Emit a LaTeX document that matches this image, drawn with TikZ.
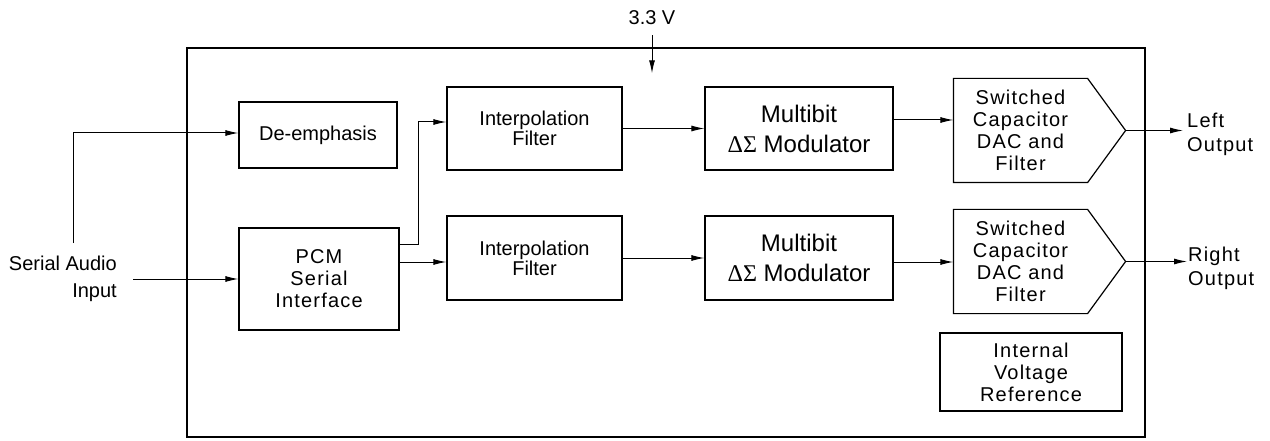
\documentclass[tikz,border=0pt]{standalone}
\usepackage{fontspec}
\setmainfont{Liberation Sans}
\newfontfamily\grk{Liberation Serif}
\newfontfamily\spaced[LetterSpace=6]{Liberation Sans}
\usetikzlibrary{arrows.meta,calc}
\begin{document}
\begin{tikzpicture}[x=1pt,y=-1pt,
  blk/.style={draw,line width=1.2pt,inner sep=0pt,align=center,font=\fontsize{20}{22}\selectfont},
  sblk/.style={blk,font=\spaced\fontsize{20}{22}\selectfont},
  mblk/.style={blk,font=\fontsize{24}{30}\selectfont},
  lbl/.style={inner sep=0pt,font=\fontsize{20}{27}\selectfont},
  arr/.style={line width=1pt,-{Latex[length=13pt,width=6pt]}},
  wire/.style={line width=1pt},
  dacshape/.style={line width=1.2pt}
]
\useasboundingbox (0,0) rectangle (1270,441);
% chip outline
\node[draw,line width=2.5pt,minimum width=958pt,minimum height=389pt,inner sep=0pt] (chip) at (666,242.5) {};
% blocks
\node[blk,minimum width=158pt,minimum height=66pt] (deemph) at (318,135) {De-emphasis};
\node[sblk,minimum width=160pt,minimum height=102pt] (pcm) at (319,279) {PCM\\Serial\\Interface};
\node[blk,minimum width=175pt,minimum height=83pt,font=\fontsize{20}{20}\selectfont] (if1) at (534.5,128.5) {Interpolation\\Filter};
\node[blk,minimum width=175pt,minimum height=84pt,font=\fontsize{20}{20}\selectfont] (if2) at (534.5,258) {Interpolation\\Filter};
\node[mblk,minimum width=188pt,minimum height=83pt] (mod1) at (799,128.5) {Multibit\\{\grk ΔΣ} Modulator};
\node[mblk,minimum width=188pt,minimum height=84pt] (mod2) at (799,258) {Multibit\\{\grk ΔΣ} Modulator};
% DACs
\node[sblk,draw=none,minimum width=133pt,minimum height=103pt] (dac1) at (1020.5,130.5) {Switched\\Capacitor\\DAC and\\Filter};
\coordinate (dac1tip) at ($(dac1.east)+(38,0)$);
\draw[dacshape] (dac1.north west) -- (dac1.north east) -- (dac1tip) -- (dac1.south east) -- (dac1.south west) -- cycle;
\node[sblk,draw=none,minimum width=133pt,minimum height=103pt] (dac2) at (1020.5,261.5) {Switched\\Capacitor\\DAC and\\Filter};
\coordinate (dac2tip) at ($(dac2.east)+(38,0)$);
\draw[dacshape] (dac2.north west) -- (dac2.north east) -- (dac2tip) -- (dac2.south east) -- (dac2.south west) -- cycle;
\node[sblk,minimum width=182pt,minimum height=78pt] (ivr) at (1031,372) {Internal\\Voltage\\Reference};
% labels
\node[lbl,align=right,anchor=east] (sai) at (117,279) {Serial Audio\\Input};
\node[lbl] (v33) at (652,18) {3.3 V};
\node[lbl,align=left,anchor=west,font=\spaced\fontsize{20}{24}\selectfont] (lo) at (1187,134) {Left\\Output};
\node[lbl,align=left,anchor=west,font=\spaced\fontsize{20}{24}\selectfont] (ro) at (1188,268) {Right\\Output};
% connectors
\coordinate (brk) at (73,243);
\draw[arr] (brk) |- ([yshift=2pt]deemph.west);
\draw[arr] ([xshift=16pt]sai.east) -- (pcm.west);
\draw[arr] ([yshift=35pt]pcm.east) -- ++(19,0) |- ([yshift=6.5pt]if1.west);
\draw[arr] ([yshift=17pt]pcm.east) coordinate (p2) -- (p2 -| if2.west);
\draw[arr] (if1) -- (mod1);
\draw[arr] (if2) -- (mod2);
\draw[arr] ([yshift=8.5pt]mod1.east) coordinate (m1o) -- (m1o -| dac1.west);
\draw[arr] ([yshift=-4pt]mod2.east) coordinate (m2o) -- (m2o -| dac2.west);
\draw[arr] (dac1tip) -- ([xshift=-4pt]lo.west |- dac1tip);
\draw[arr] (dac2tip) -- ([xshift=-1pt]ro.west |- dac2tip);
\draw[arr] ([yshift=-10pt]v33.south) -- ++(0,38);
\end{tikzpicture}
\end{document}
